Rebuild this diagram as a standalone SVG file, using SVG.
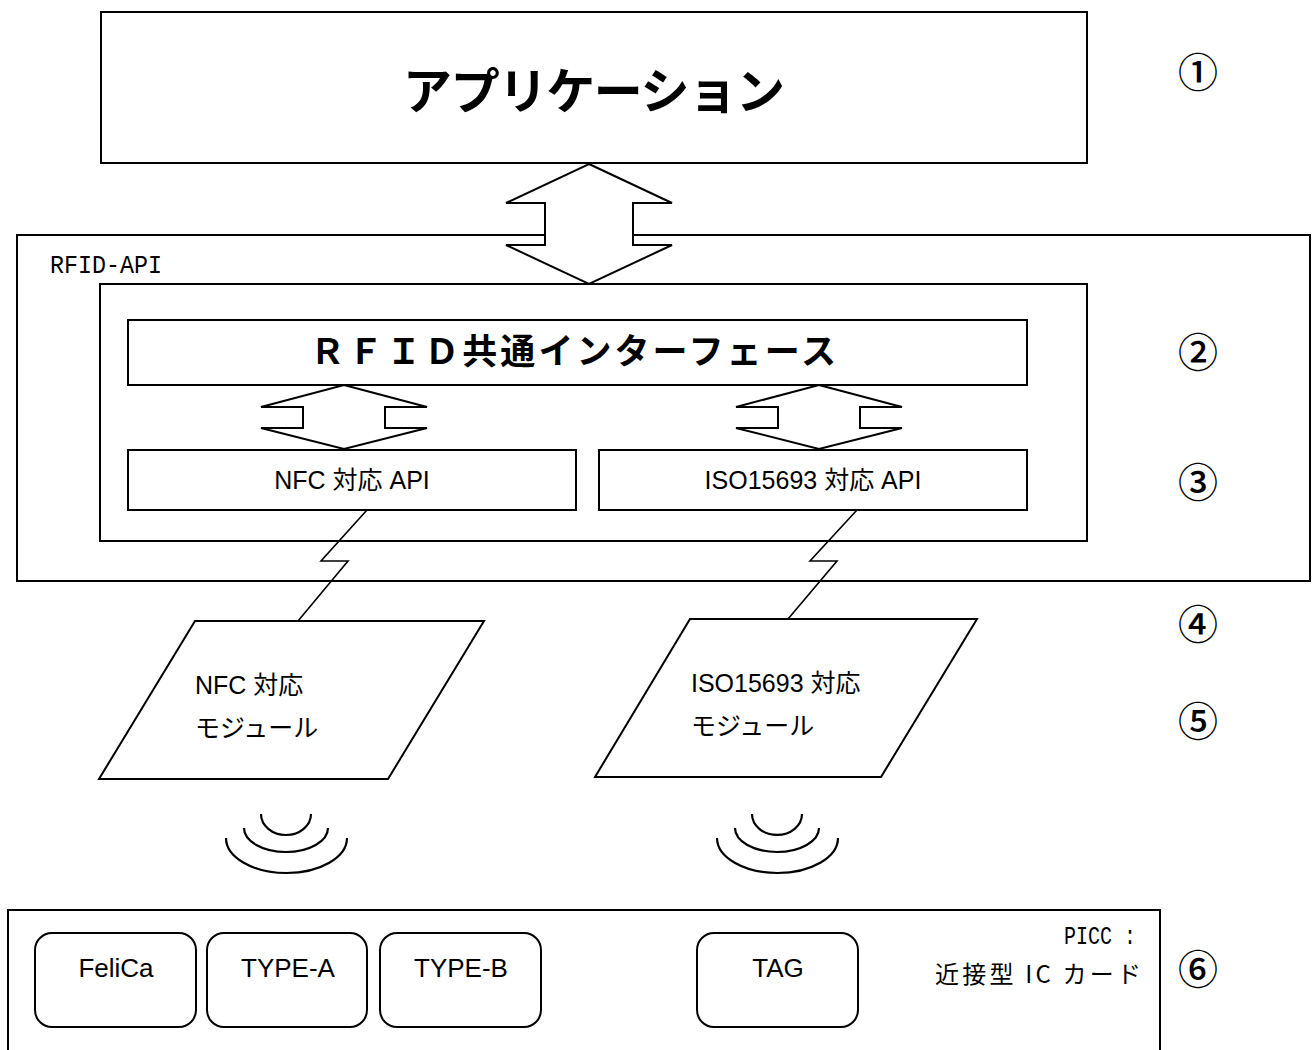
<svg xmlns="http://www.w3.org/2000/svg" width="1312" height="1050" viewBox="0 0 1312 1050">
  <style>
    .box { fill: #fff; stroke: #000; stroke-width: 2; }
    .frame { fill: none; stroke: #000; stroke-width: 2; }
    .wire { fill: none; stroke: #000; stroke-width: 1.6; stroke-linejoin: miter; }
    .wave { fill: none; stroke: #000; stroke-width: 2.2; }
    .lbl { font-family: "Liberation Sans", "Noto Sans CJK JP", sans-serif; font-size: 25px; fill: #000; }
    .card { font-family: "Liberation Sans", "Noto Sans CJK JP", sans-serif; font-size: 26px; fill: #000; text-anchor: middle; }
    .head { font-family: "Noto Sans CJK JP", sans-serif; font-weight: bold; fill: #000; text-anchor: middle; }
    .mono { font-family: "Liberation Mono", "Noto Sans CJK JP", monospace; font-size: 26px; fill: #000; }
    .jp { font-family: "Noto Sans CJK JP", sans-serif; font-size: 24px; fill: #000; }
    .num { font-family: "Noto Sans CJK JP", sans-serif; font-size: 40px; font-weight: 500; fill: #000; text-anchor: middle; }
  </style>

  <!-- application layer -->
  <g id="application">
    <rect class="box" x="101" y="12" width="986" height="151"/>
    <text class="head" x="594" y="109" font-size="49" textLength="382" lengthAdjust="spacing">アプリケーション</text>
  </g>

  <!-- RFID-API container -->
  <g id="rfid-api">
    <rect class="box" x="17" y="235" width="1293" height="346"/>
    <text class="mono" x="50" y="273" font-size="30" textLength="112" lengthAdjust="spacingAndGlyphs">RFID-API</text>
  </g>

  <g id="rfid-api-inner">
    <rect class="frame" x="100" y="284" width="987" height="257"/>
  </g>

  <g id="common-interface">
    <rect class="box" x="128" y="320" width="899" height="65"/>
    <text class="head" x="573" y="364" font-size="35" textLength="526" lengthAdjust="spacing">ＲＦＩＤ共通インターフェース</text>
  </g>

  <g id="nfc-api">
    <rect class="box" x="128" y="450" width="448" height="60"/>
    <text class="lbl" x="352" y="489" text-anchor="middle">NFC 対応 API</text>
  </g>

  <g id="iso-api">
    <rect class="box" x="599" y="450" width="428" height="60"/>
    <text class="lbl" x="813" y="489" text-anchor="middle">ISO15693 対応 API</text>
  </g>

  <!-- reader modules -->
  <g id="nfc-module">
    <polygon class="box" points="195,621 484,621 388,779 99,779"/>
    <text class="lbl" x="195" y="694">NFC 対応</text>
    <text class="lbl" x="195" y="737">モジュール</text>
  </g>

  <g id="iso-module">
    <polygon class="box" points="690,619 977,619 881,777 595,777"/>
    <text class="lbl" x="691" y="692">ISO15693 対応</text>
    <text class="lbl" x="691" y="735">モジュール</text>
  </g>

  <!-- contactless cards -->
  <g id="picc">
    <rect class="frame" x="8" y="910" width="1152" height="160"/>
    <text class="mono" x="1136" y="944" text-anchor="end" font-size="26" textLength="72" lengthAdjust="spacingAndGlyphs">PICC :</text>
    <text class="jp" x="935" y="983" textLength="206" lengthAdjust="spacing">近接型 IC カード</text>
  </g>

  <g id="card-felica">
    <rect class="box" x="35" y="933" width="161" height="94" rx="17"/>
    <text class="card" x="116" y="977">FeliCa</text>
  </g>
  <g id="card-type-a">
    <rect class="box" x="207" y="933" width="160" height="94" rx="17"/>
    <text class="card" x="288" y="977">TYPE-A</text>
  </g>
  <g id="card-type-b">
    <rect class="box" x="380" y="933" width="161" height="94" rx="17"/>
    <text class="card" x="461" y="977">TYPE-B</text>
  </g>
  <g id="card-tag">
    <rect class="box" x="697" y="933" width="161" height="94" rx="17"/>
    <text class="card" x="778" y="977">TAG</text>
  </g>

  <!-- connectors -->
  <g id="connectors">
    <!-- application <-> RFID-API -->
    <polygon class="box" points="589,164 672,203 633,203 633,245 672,245 589,284 506,245 545,245 545,203 506,203"/>
    <!-- interface <-> protocol APIs -->
    <polygon class="box" points="344,385 427,407 385,407 385,428 427,428 344,449 261,428 303,428 303,407 261,407"/>
    <polygon class="box" points="819,385 902,407 860,407 860,428 902,428 819,449 736,428 778,428 778,407 736,407"/>
    <!-- API to module links -->
    <polyline class="wire" points="367,510 321,561 348,561 298,621"/>
    <polyline class="wire" points="857,510 810,561 837,561 788,619"/>
    <!-- radio waves -->
    <path class="wave" d="M261,814 A25,21 0 0 0 311,814"/>
    <path class="wave" d="M244,828 A42,24 0 0 0 328,828"/>
    <path class="wave" d="M226,838 A60.5,35 0 0 0 347,838"/>
    <path class="wave" d="M752,814 A25,21 0 0 0 802,814"/>
    <path class="wave" d="M735,828 A42,24 0 0 0 819,828"/>
    <path class="wave" d="M717,838 A60.5,35 0 0 0 838,838"/>
  </g>

  <!-- layer markers, drawn last so the containers do not hide them -->
  <g id="layer-numbers">
    <text class="num" x="1198" y="87">①</text>
    <text class="num" x="1198" y="367">②</text>
    <text class="num" x="1198" y="497">③</text>
    <text class="num" x="1198" y="639">④</text>
    <text class="num" x="1198" y="736">⑤</text>
    <text class="num" x="1198" y="984">⑥</text>
  </g>
</svg>
